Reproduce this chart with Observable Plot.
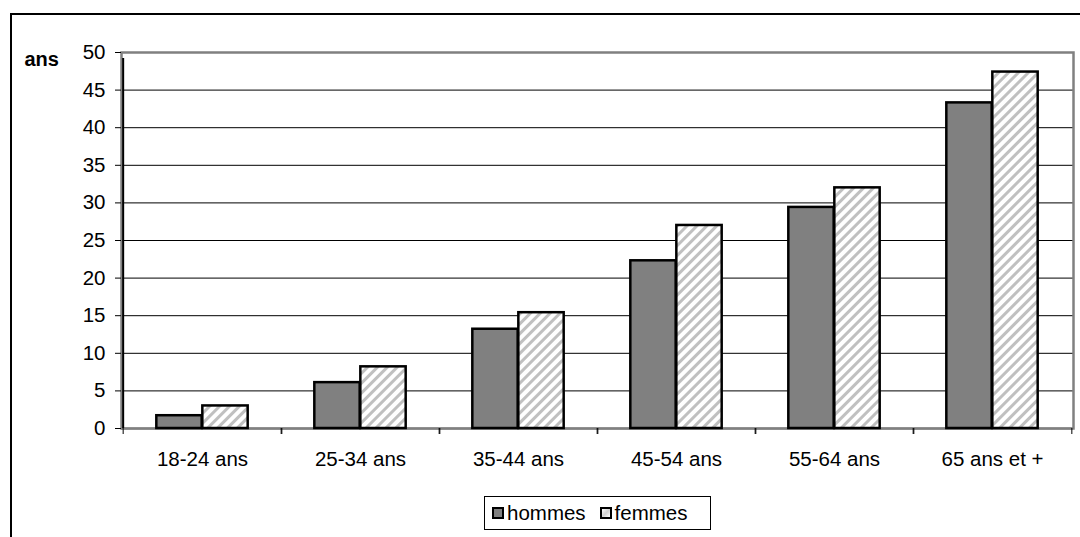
<!DOCTYPE html>
<html>
<head>
<meta charset="utf-8">
<script src="https://cdn.jsdelivr.net/npm/d3@7"></script>
<script src="https://cdn.jsdelivr.net/npm/@observablehq/plot@0.6"></script>
<style>
  html, body { margin: 0; padding: 0; background: #fff; overflow: hidden; }
  body { width: 1080px; height: 537px; position: relative; font-family: "Liberation Sans", Arial, sans-serif; }
  #outer { position: absolute; left: 10px; top: 13px; width: 1200px; height: 700px; border: 2px solid #000; box-sizing: border-box; }
  #chart { position: absolute; left: 0; top: 0; }
  #legend { position: absolute; left: 484px; top: 496px; width: 227px; height: 34px; border: 1px solid #000; box-sizing: border-box; background: #fff;
            display: flex; align-items: center; font-size: 20.5px; color: #000; }
  .sw { width: 12px; height: 12px; border: 2px solid #000; box-sizing: border-box; display: inline-block; margin-left: 7px; margin-right: 3px; }
  .sw + .lab + .sw { margin-left: 14px; }
  .lab { display: inline-block; }
</style>
</head>
<body>
<div id="outer"></div>
<div id="chart"></div>
<div id="legend"></div>
<script>
const categories = ["18-24 ans", "25-34 ans", "35-44 ans", "45-54 ans", "55-64 ans", "65 ans et +"];
const hommes = [1.7, 6.1, 13.2, 22.3, 29.4, 43.3];
const femmes = [3.0, 8.2, 15.4, 27.0, 32.0, 47.4];
const yTicks = [0, 5, 10, 15, 20, 25, 30, 35, 40, 45, 50];
const seriesNames = ["hommes", "femmes"];
const yLabel = "ans";

const W = 1080, H = 537, mL = 121, mR = 7, mT = 52, mB = 109;
const bw = (W - mL - mR) / categories.length;
const barW = bw * 0.29;
const outer = (bw - 2 * barW) / 2;

const dataH = categories.map((c, i) => ({cat: c, v: hommes[i]}));
const dataF = categories.map((c, i) => ({cat: c, v: femmes[i]}));

const plot = Plot.plot({
  width: W, height: H,
  marginLeft: mL, marginRight: mR, marginTop: mT, marginBottom: mB,
  style: {fontFamily: "'Liberation Sans', Arial, sans-serif", fontSize: "20px", color: "#000", background: "transparent", overflow: "visible"},
  x: {domain: categories, padding: 0, label: null},
  y: {domain: [0, 50], label: null},
  marks: [
    Plot.gridY(yTicks.filter(t => t > 0 && t < 50), {stroke: "#000", strokeOpacity: 1, strokeWidth: 1}),
    Plot.frame({stroke: "#808080", strokeWidth: 2.5}),
    Plot.ruleY([0], {stroke: "#808080", strokeWidth: 2}),
    Plot.barY(dataH, {x: "cat", y: "v", fill: "#808080", stroke: "#000", strokeWidth: 2.5, insetLeft: outer, insetRight: outer + barW}),
    Plot.barY(dataF, {x: "cat", y: "v", fill: "url(#hatch)", stroke: "#000", strokeWidth: 2.5, insetLeft: outer + barW, insetRight: outer}),
    // left axis line
    Plot.ruleX([categories[0]], {dx: -bw / 2, y1: 0, y2: 50, stroke: "#000", strokeWidth: 2, insetBottom: -6}),
    // category boundary ticks
    Plot.axisX({tickSize: 6, text: null, dx: -bw / 2, stroke: "#000", strokeWidth: 1, anchor: "bottom"}),
    Plot.axisX({tickSize: 6, text: null, dx: bw / 2, stroke: "#000", strokeWidth: 1, anchor: "bottom"}),
    Plot.axisX({tickSize: 0, tickPadding: 23, anchor: "bottom", fontSize: 20.5}),
    Plot.axisY({ticks: yTicks, tickSize: 6, tickPadding: 10, anchor: "left", fontSize: 20.5, stroke: "#000"}),
    Plot.text([yLabel], {frameAnchor: "top-left", dx: -97, dy: -1, fontWeight: "bold", fontSize: 20, textAnchor: "start", lineAnchor: "top"})
  ]
});

// hatch pattern definition
const svg = d3.select(plot);
const defs = svg.insert("defs", ":first-child");
const pat = defs.append("pattern").attr("id", "hatch").attr("patternUnits", "userSpaceOnUse")
  .attr("width", 7).attr("height", 7).attr("patternTransform", "rotate(45)");
pat.append("rect").attr("width", 7).attr("height", 7).attr("fill", "#fff");
pat.append("rect").attr("x", 0).attr("width", 3).attr("height", 7).attr("fill", "#c0c0c0");

document.getElementById("chart").appendChild(plot);

// legend
const colors = {hommes: "#808080", femmes: "linear-gradient(135deg, #fff 0%, #d0d0d0 50%, #fff 100%)"};
const leg = document.getElementById("legend");
seriesNames.forEach(n => {
  const s = document.createElement("span");
  s.className = "sw";
  s.style.background = colors[n];
  const t = document.createElement("span");
  t.className = "lab";
  t.textContent = n;
  leg.appendChild(s);
  leg.appendChild(t);
});
</script>
</body>
</html>
